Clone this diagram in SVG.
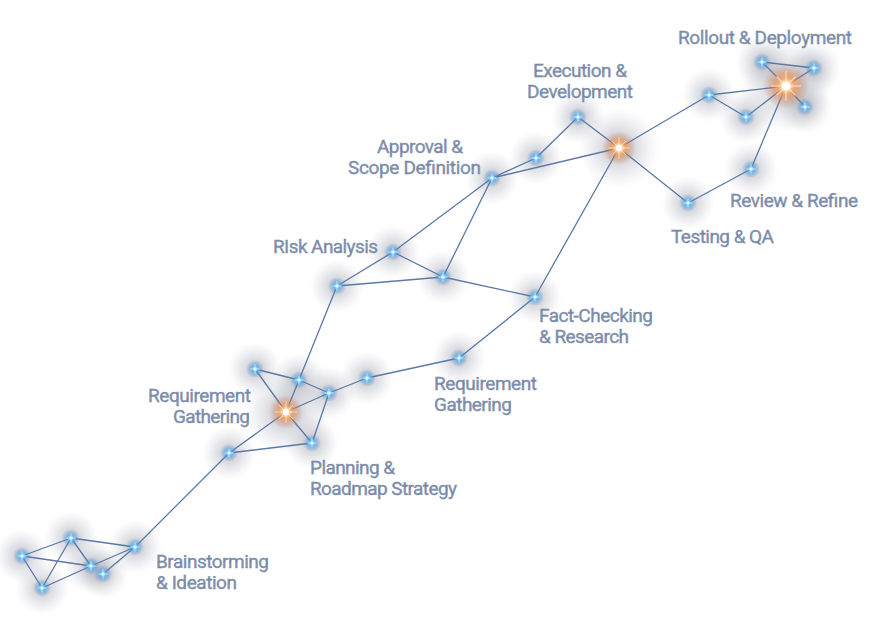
<svg xmlns="http://www.w3.org/2000/svg" xmlns:xlink="http://www.w3.org/1999/xlink" width="887" height="624" viewBox="0 0 887 624">
<defs>
<style>
.e{stroke:#5a79a6;stroke-width:1.3;fill:none;stroke-linecap:round}
.lbl{font-family:Roboto,"Liberation Sans",sans-serif;font-size:19px;fill:#8292b1;stroke:#6f7f9e;stroke-width:0.35;lengthAdjust:spacingAndGlyphs}
.halo{fill:url(#gHalo)}
.haloO{fill:url(#gHaloO)}
</style>
<radialGradient id="gHalo">
<stop offset="0" stop-color="#7e8090" stop-opacity="0.5"/>
<stop offset="0.5" stop-color="#9597a6" stop-opacity="0.25"/>
<stop offset="1" stop-color="#b0b2c0" stop-opacity="0"/>
</radialGradient>
<radialGradient id="gHaloO">
<stop offset="0" stop-color="#857272" stop-opacity="0.55"/>
<stop offset="0.5" stop-color="#9597a6" stop-opacity="0.27"/>
<stop offset="1" stop-color="#b0b2c0" stop-opacity="0"/>
</radialGradient>
<radialGradient id="gBlue">
<stop offset="0" stop-color="#7cc8ff" stop-opacity="1"/>
<stop offset="0.45" stop-color="#4a9ee0" stop-opacity="0.55"/>
<stop offset="1" stop-color="#4a8ad0" stop-opacity="0"/>
</radialGradient>
<radialGradient id="gOrange">
<stop offset="0" stop-color="#ffffff" stop-opacity="1"/>
<stop offset="0.15" stop-color="#fff2d8" stop-opacity="1"/>
<stop offset="0.35" stop-color="#f6a45e" stop-opacity="0.85"/>
<stop offset="0.65" stop-color="#d9804a" stop-opacity="0.35"/>
<stop offset="1" stop-color="#c07050" stop-opacity="0"/>
</radialGradient>
<g id="bn">
<circle r="9" fill="url(#gBlue)"/>
<path d="M0,-5.5 L1.6,-1.6 L5.5,0 L1.6,1.6 L0,5.5 L-1.6,1.6 L-5.5,0 L-1.6,-1.6Z" fill="#9fdcff"/>
<path d="M0,-3.5 L3.5,0 L0,3.5 L-3.5,0Z" fill="#6cc0f5" transform="rotate(45)" opacity="0.8"/>
<circle r="1.8" fill="#e8f8ff"/>
</g>
<g id="on">
<circle r="17" fill="url(#gOrange)"/>
<path d="M-11,0 H11 M0,-11 V11 M-7,-7 L7,7 M-7,7 L7,-7" stroke="#fff4e0" stroke-width="0.8" opacity="0.8"/>
<circle r="3" fill="#ffffff"/>
</g>
</defs>
<rect width="887" height="624" fill="#ffffff"/>
<g id="halos">
<circle class="halo" cx="22" cy="556" r="27"/>
<circle class="halo" cx="71" cy="538" r="27"/>
<circle class="halo" cx="42" cy="588" r="27"/>
<circle class="halo" cx="91" cy="566" r="27"/>
<circle class="halo" cx="103" cy="574" r="25"/>
<circle class="halo" cx="135" cy="547" r="27"/>
<circle class="halo" cx="229" cy="453" r="27"/>
<circle class="haloO" cx="286" cy="412" r="42"/>
<circle class="halo" cx="255" cy="369" r="27"/>
<circle class="halo" cx="299" cy="380" r="27"/>
<circle class="halo" cx="329" cy="393" r="27"/>
<circle class="halo" cx="312" cy="443" r="27"/>
<circle class="halo" cx="367" cy="378" r="27"/>
<circle class="halo" cx="459" cy="358" r="27"/>
<circle class="halo" cx="337" cy="286" r="27"/>
<circle class="halo" cx="393" cy="252" r="27"/>
<circle class="halo" cx="443" cy="277" r="27"/>
<circle class="halo" cx="535" cy="297" r="27"/>
<circle class="halo" cx="492" cy="178" r="27"/>
<circle class="halo" cx="536" cy="158" r="27"/>
<circle class="haloO" cx="619" cy="148" r="40"/>
<circle class="halo" cx="578" cy="117" r="27"/>
<circle class="halo" cx="688" cy="203" r="27"/>
<circle class="halo" cx="751" cy="169" r="27"/>
<circle class="halo" cx="709" cy="95" r="27"/>
<circle class="halo" cx="746" cy="117" r="27"/>
<circle class="haloO" cx="786" cy="86" r="46"/>
<circle class="halo" cx="762" cy="62" r="27"/>
<circle class="halo" cx="814" cy="68" r="27"/>
<circle class="halo" cx="805" cy="107" r="27"/>
</g>
<g id="connectors">
<path class="e" d="M22,556 L71,538 M22,556 L42,588 M22,556 L91,566 M71,538 L42,588 M71,538 L91,566 M71,538 L135,547 M42,588 L91,566 M91,566 L135,547 M103,574 L135,547"/>
<path class="e" d="M135,547 L229,453"/>
<path class="e" d="M229,453 L286,412 M229,453 L312,443 M286,412 L255,369 M286,412 L299,380 M286,412 L329,393 M286,412 L312,443 M255,369 L299,380 M299,380 L329,393 M329,393 L312,443 M329,393 L367,378 M367,378 L459,358 M299,380 L337,286 M459,358 L535,297"/>
<path class="e" d="M337,286 L393,252 M337,286 L443,277 M393,252 L443,277 M393,252 L492,178 M443,277 L492,178 M443,277 L535,297 M535,297 L619,148 M492,178 L536,158 M492,178 L619,148 M536,158 L578,117 M578,117 L619,148"/>
<path class="e" d="M619,148 L709,95 M619,148 L688,203 M688,203 L751,169 M751,169 L786,86 M709,95 L746,117 M709,95 L786,86 M746,117 L786,86 M786,86 L762,62 M786,86 L814,68 M786,86 L805,107 M762,62 L814,68"/>
</g>
<g id="n-brainstorm">
<use xlink:href="#bn" x="22" y="556"/>
<use xlink:href="#bn" x="71" y="538"/>
<use xlink:href="#bn" x="42" y="588"/>
<use xlink:href="#bn" x="91" y="566"/>
<use xlink:href="#bn" x="103" y="574"/>
<use xlink:href="#bn" x="135" y="547"/>
<text class="lbl" x="156" y="568" textLength="113">Brainstorming</text>
<text class="lbl" x="156" y="589" textLength="81">&amp; Ideation</text>
</g>
<g id="n-requirement-left">
<use xlink:href="#bn" x="229" y="453"/>
<use xlink:href="#bn" x="255" y="369"/>
<use xlink:href="#bn" x="299" y="380"/>
<use xlink:href="#on" x="286" y="412"/>
<text class="lbl" x="148" y="402" textLength="103">Requirement</text>
<text class="lbl" x="173" y="423" textLength="77">Gathering</text>
</g>
<g id="n-planning">
<use xlink:href="#bn" x="329" y="393"/>
<use xlink:href="#bn" x="312" y="443"/>
<text class="lbl" x="310" y="474" textLength="85">Planning &amp;</text>
<text class="lbl" x="310" y="495" textLength="147">Roadmap Strategy</text>
</g>
<g id="n-requirement-right">
<use xlink:href="#bn" x="367" y="378"/>
<use xlink:href="#bn" x="459" y="358"/>
<text class="lbl" x="434" y="390" textLength="103">Requirement</text>
<text class="lbl" x="434" y="411" textLength="78">Gathering</text>
</g>
<g id="n-risk">
<use xlink:href="#bn" x="337" y="286"/>
<use xlink:href="#bn" x="393" y="252"/>
<use xlink:href="#bn" x="443" y="277"/>
<text class="lbl" x="273" y="253" textLength="105">RIsk Analysis</text>
</g>
<g id="n-factcheck">
<use xlink:href="#bn" x="535" y="297"/>
<text class="lbl" x="539" y="322" textLength="114">Fact-Checking</text>
<text class="lbl" x="539" y="343" textLength="90">&amp; Research</text>
</g>
<g id="n-approval">
<use xlink:href="#bn" x="492" y="178"/>
<use xlink:href="#bn" x="536" y="158"/>
<text class="lbl" x="377" y="153" textLength="86">Approval &amp;</text>
<text class="lbl" x="348" y="174" textLength="133">Scope Definition</text>
</g>
<g id="n-execution">
<use xlink:href="#bn" x="578" y="117"/>
<use xlink:href="#on" x="619" y="148"/>
<text class="lbl" x="533" y="77" textLength="94">Execution &amp;</text>
<text class="lbl" x="527" y="98" textLength="106">Development</text>
</g>
<g id="n-testing">
<use xlink:href="#bn" x="688" y="203"/>
<text class="lbl" x="671" y="243" textLength="103">Testing &amp; QA</text>
</g>
<g id="n-review">
<use xlink:href="#bn" x="751" y="169"/>
<text class="lbl" x="730" y="207" textLength="128">Review &amp; Refine</text>
</g>
<g id="n-rollout">
<use xlink:href="#bn" x="709" y="95"/>
<use xlink:href="#bn" x="746" y="117"/>
<use xlink:href="#bn" x="762" y="62"/>
<use xlink:href="#bn" x="814" y="68"/>
<use xlink:href="#bn" x="805" y="107"/>
<g transform="translate(786,86) scale(1.35)"><use xlink:href="#on"/></g>
<text class="lbl" x="678" y="44" textLength="174">Rollout &amp; Deployment</text>
</g>
</svg>
